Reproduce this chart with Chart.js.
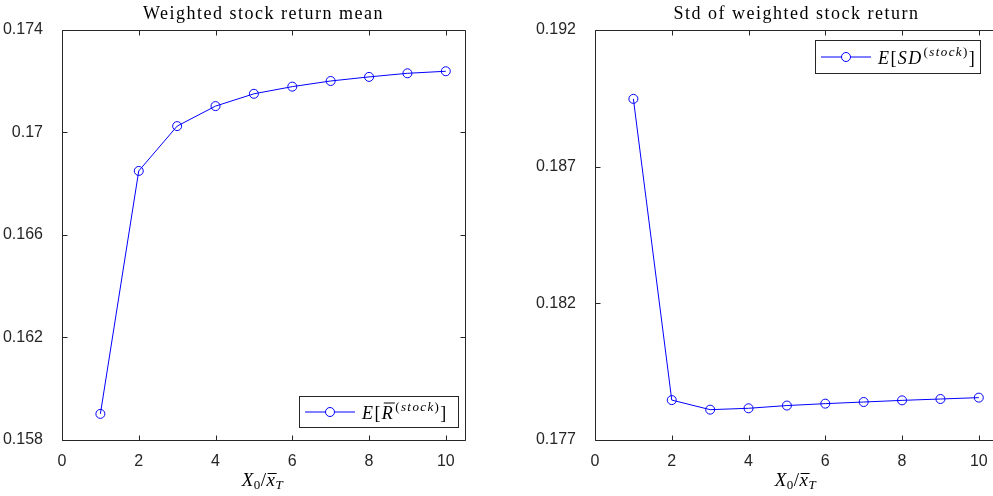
<!DOCTYPE html>
<html>
<head>
<meta charset="utf-8">
<style>
  html, body { margin: 0; padding: 0; background: #fff; overflow: hidden; }
  .wrap { position: absolute; top: 0; width: 496px; height: 496px; }
  #w1 { left: 0; }
  #w2 { left: 529px; }
</style>
</head>
<body>
<div class="wrap" id="w1"><canvas id="c1" width="496" height="496"></canvas></div>
<div class="wrap" id="w2"><canvas id="c2" width="496" height="496"></canvas></div>
<script src="https://cdn.jsdelivr.net/npm/chart.js"></script>
<script>
// data
var ratio = [1, 2, 3, 4, 5, 6, 7, 8, 9, 10];
var meanReturn = [0.15902, 0.16850, 0.17025, 0.17103, 0.17151, 0.17179, 0.17201, 0.17217, 0.17231, 0.17239];
var stdReturn = [0.18948, 0.17846, 0.17811, 0.17816, 0.17826, 0.17833, 0.17839, 0.17845, 0.17850, 0.17855];
var xTicks = [0, 2, 4, 6, 8, 10];
var meanTicks = [0.158, 0.162, 0.166, 0.17, 0.174];
var stdTicks = [0.177, 0.182, 0.187, 0.192];
var titles = ['Weighted stock return mean', 'Std of weighted stock return'];

var AX = '#262626';
var BLUE = '#0000ff';
var SERIF = '"Liberation Serif", "DejaVu Serif", serif';

// draws a run of text pieces: {t, it, sz, dy, bar}
function richText(ctx, parts, x, y, align, spacing) {
  var w = 0;
  ctx.letterSpacing = (spacing || 0) + 'px';
  parts.forEach(function (p) {
    ctx.font = (p.it ? 'italic ' : '') + p.sz + 'px ' + SERIF;
    p.w = ctx.measureText(p.t).width + (p.sp || 0);
    w += p.w;
  });
  var cx = align === 'center' ? x - w / 2 : x;
  ctx.textBaseline = 'alphabetic';
  ctx.textAlign = 'left';
  parts.forEach(function (p) {
    ctx.font = (p.it ? 'italic ' : '') + p.sz + 'px ' + SERIF;
    ctx.fillStyle = '#000';
    ctx.fillText(p.t, cx, y + (p.dy || 0));
    if (p.bar) {
      ctx.strokeStyle = '#000';
      ctx.lineWidth = 1;
      ctx.beginPath();
      ctx.moveTo(cx + p.bar[0], y + p.bar[2] + 0.5);
      ctx.lineTo(cx + p.bar[1], y + p.bar[2] + 0.5);
      ctx.stroke();
    }
    cx += p.w;
  });
  ctx.letterSpacing = '0px';
  return w;
}

function xLabelParts() {
  return [
    {t: 'X', it: true, sz: 19},
    {t: '0', sz: 13, dy: 3},
    {t: '/', sz: 19},
    {t: 'x', it: true, sz: 19, bar: [1, 10, -13]},
    {t: 'T', it: true, sz: 13, dy: 3}
  ];
}

function legendParts(which) {
  if (which === 0) {
    return [
      {t: 'E', it: true, sz: 18},
      {t: '[', sz: 18},
      {t: 'R', it: true, sz: 18, bar: [2, 13, -16], sp: 1},
      {t: '(', sz: 13, dy: -8},
      {t: 'stock', it: true, sz: 13, dy: -8},
      {t: ')', sz: 13, dy: -8},
      {t: ']', sz: 18}
    ];
  }
  return [
    {t: 'E', it: true, sz: 18},
    {t: '[', sz: 18},
    {t: 'SD', it: true, sz: 18, sp: 1},
    {t: '(', sz: 13, dy: -8},
    {t: 'stock', it: true, sz: 13, dy: -8},
    {t: ')', sz: 13, dy: -8},
    {t: ']', sz: 18}
  ];
}

var matlabLook = {
  id: 'matlabLook',
  afterDraw: function (chart, args, o) {
    var ctx = chart.ctx, a = chart.chartArea;
    var xs = chart.scales.x, ys = chart.scales.y;
    ctx.save();
    // box
    ctx.strokeStyle = AX;
    ctx.lineWidth = 1;
    var L = Math.round(a.left) + 0.5, R = Math.round(a.right) + 0.5;
    var T = Math.round(a.top) + 0.5, B = Math.round(a.bottom) + 0.5;
    ctx.beginPath();
    ctx.rect(L, T, R - L, B - T);
    ctx.stroke();
    // inward ticks
    ctx.beginPath();
    xs.ticks.forEach(function (t) {
      var px = Math.round(xs.getPixelForValue(t.value)) + 0.5;
      ctx.moveTo(px, B); ctx.lineTo(px, B - 5);
      ctx.moveTo(px, T); ctx.lineTo(px, T + 5);
    });
    ys.ticks.forEach(function (t) {
      var py = Math.round(ys.getPixelForValue(t.value)) + 0.5;
      ctx.moveTo(L, py); ctx.lineTo(L + 5, py);
      ctx.moveTo(R, py); ctx.lineTo(R - 5, py);
    });
    ctx.stroke();
    var mid = (a.left + a.right) / 2;
    // title
    ctx.font = '18px ' + SERIF;
    ctx.letterSpacing = '1.5px';
    ctx.fillStyle = '#000';
    ctx.textAlign = 'center';
    ctx.textBaseline = 'alphabetic';
    ctx.fillText(titles[o.which], mid, 19);
    ctx.letterSpacing = '0px';
    // x label
    richText(ctx, xLabelParts(), mid - 1, 486, 'center', 0.5);
    // legend
    var lg = o.legend;
    ctx.fillStyle = '#fff';
    ctx.fillRect(lg.x, lg.y, lg.w, lg.h);
    ctx.strokeStyle = AX;
    ctx.strokeRect(lg.x + 0.5, lg.y + 0.5, lg.w, lg.h);
    var ly = lg.y + lg.h / 2 + 0.5;
    ctx.strokeStyle = BLUE;
    ctx.beginPath();
    ctx.moveTo(lg.x + 6, ly); ctx.lineTo(lg.x + 56, ly);
    ctx.stroke();
    ctx.beginPath();
    ctx.arc(lg.x + 31, ly, 4.5, 0, Math.PI * 2);
    ctx.fillStyle = '#fff';
    ctx.fill();
    ctx.stroke();
    richText(ctx, legendParts(o.which), lg.x + 63, lg.y + lg.h / 2 + 7, 'left', 1.4);
    ctx.restore();
  }
};

function makeChart(id, which, vals, yTicks, yMin, yMax, yWidth, padRight, legend) {
  var pts = ratio.map(function (r, i) { return {x: r, y: vals[i]}; });
  return new Chart(document.getElementById(id), {
    type: 'line',
    data: {
      datasets: [{
        data: pts,
        borderColor: BLUE,
        borderWidth: 1,
        backgroundColor: 'rgba(0,0,0,0)',
        pointStyle: 'circle',
        pointRadius: 4.5,
        pointBorderWidth: 1,
        pointBorderColor: BLUE,
        pointBackgroundColor: 'rgba(0,0,0,0)',
        tension: 0,
        fill: false
      }]
    },
    options: {
      responsive: false,
      animation: false,
      layout: {padding: {top: 30, right: padRight, left: 0, bottom: 0}},
      plugins: {
        legend: {display: false},
        tooltip: {enabled: false},
        matlabLook: {which: which, legend: legend}
      },
      scales: {
        x: {
          type: 'linear', min: 0, max: 10.5,
          afterBuildTicks: function (s) { s.ticks = xTicks.map(function (v) { return {value: v}; }); },
          afterFit: function (s) { s.height = 56; },
          grid: {display: false},
          border: {display: false},
          ticks: {color: AX, padding: 4, font: {family: '"Liberation Sans", Arial, sans-serif', size: 16}, maxRotation: 0}
        },
        y: {
          type: 'linear', min: yMin, max: yMax,
          afterBuildTicks: function (s) { s.ticks = yTicks.map(function (v) { return {value: v}; }); },
          afterFit: function (s) { s.width = yWidth; },
          grid: {display: false},
          border: {display: false},
          ticks: {
            color: AX, padding: 11,
            font: {family: '"Liberation Sans", Arial, sans-serif', size: 16},
            callback: function (v) { return String(+v.toFixed(3)); }
          }
        }
      }
    },
    plugins: [matlabLook]
  });
}

makeChart('c1', 0, meanReturn, meanTicks, 0.158, 0.174, 62, 31, {x: 299, y: 396, w: 159, h: 31});
makeChart('c2', 1, stdReturn, stdTicks, 0.177, 0.192, 66, 27, {x: 286, y: 40, w: 165, h: 33});
</script>
</body>
</html>
